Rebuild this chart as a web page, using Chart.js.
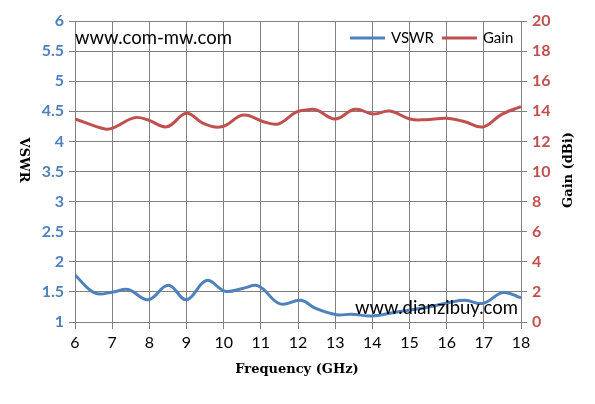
<!DOCTYPE html>
<html>
<head>
<meta charset="utf-8">
<script src="https://cdn.jsdelivr.net/npm/chart.js@4"></script>
<style>
  html, body { margin: 0; padding: 0; background: #fff; }
  #wrap { width: 595px; height: 404px; }
</style>
</head>
<body>
<div id="wrap"><canvas id="chart" width="595" height="404"></canvas></div>
<script>
// Values
const vswrFreq = [6, 6.54, 7.03, 7.43, 7.97, 8.51, 9, 9.54, 10.04, 10.53, 10.93, 11.52, 12.08, 12.46, 13.04, 13.44, 13.98, 14.52, 15.01, 15.5, 16.04, 16.49, 16.98, 17.52, 18];
const vswr = [1.78, 1.48, 1.50, 1.54, 1.37, 1.61, 1.37, 1.69, 1.51, 1.56, 1.60, 1.30, 1.36, 1.23, 1.12, 1.13, 1.10, 1.15, 1.20, 1.25, 1.32, 1.36, 1.31, 1.49, 1.40];

const gainFreq = [6, 6.81, 7.03, 7.61, 7.97, 8.47, 9, 9.45, 9.95, 10.53, 11.07, 11.47, 11.95, 12.28, 12.5, 13, 13.53, 14.03, 14.47, 15.01, 15.42, 16, 16.49, 16.98, 17.48, 18];
const gain = [13.5, 12.82, 12.9, 13.58, 13.42, 12.97, 13.87, 13.2, 12.97, 13.75, 13.31, 13.16, 13.95, 14.11, 14.09, 13.49, 14.13, 13.82, 14.02, 13.49, 13.44, 13.54, 13.31, 12.96, 13.8, 14.31];

const xTicks = [6, 7, 8, 9, 10, 11, 12, 13, 14, 15, 16, 17, 18];
const leftTicks = [1, 1.5, 2, 2.5, 3, 3.5, 4, 4.5, 5, 5.5, 6];
const rightTicks = [0, 2, 4, 6, 8, 10, 12, 14, 16, 18, 20];

const xTitle = 'Frequency (GHz)';
const leftTitle = 'VSWR';
const rightTitle = 'Gain (dBi)';

const blue = '#4F81BD';
const red = '#C0504D';
const gridColor = '#808080';
const tickFont = "Lato, 'Liberation Sans', sans-serif";
const titleFont = "bold 13px 'DejaVu Serif', serif";

const toPoints = (xs, ys) => xs.map((x, i) => ({ x: x, y: ys[i] }));

// axis titles, watermark texts + legend
const overlay = {
    id: 'overlay',
    afterDatasetsDraw(chart) {
        const ctx = chart.ctx;
        ctx.save();
        ctx.textBaseline = 'middle';
        ctx.textAlign = 'center';

        // axis titles
        ctx.font = titleFont;
        ctx.fillStyle = '#000';
        ctx.fillText(xTitle, 297, 370);
        ctx.save();
        ctx.translate(23, 160);
        ctx.rotate(Math.PI / 2);
        ctx.fillText(leftTitle, 0, 0);
        ctx.restore();
        ctx.save();
        ctx.translate(569, 170);
        ctx.rotate(-Math.PI / 2);
        ctx.fillText(rightTitle, 0, 0);
        ctx.restore();

        ctx.textAlign = 'left';
        ctx.font = "18.5px " + tickFont;
        ctx.fillText('www.com-mw.com', 75, 38);
        ctx.fillText('www.dianzibuy.com', 355, 308);

        // legend
        ctx.font = "15px " + tickFont;
        let x = 350;
        chart.data.datasets.forEach(ds => {
            ctx.strokeStyle = ds.borderColor;
            ctx.lineWidth = 3;
            ctx.beginPath();
            ctx.moveTo(x, 38);
            ctx.lineTo(x + 35, 38);
            ctx.stroke();
            ctx.fillStyle = '#000';
            ctx.fillText(ds.label, x + 41, 38);
            x += 41 + ctx.measureText(ds.label).width + 8;
        });
        ctx.restore();
    }
};

new Chart(document.getElementById('chart'), {
    type: 'line',
    data: {
        datasets: [{
            label: 'VSWR',
            data: toPoints(vswrFreq, vswr),
            borderColor: blue,
            backgroundColor: blue,
            borderWidth: 3,
            pointRadius: 0,
            tension: 0.4,
            yAxisID: 'y'
        }, {
            label: 'Gain',
            data: toPoints(gainFreq, gain),
            borderColor: red,
            backgroundColor: red,
            borderWidth: 3,
            pointRadius: 0,
            tension: 0.4,
            yAxisID: 'y2'
        }]
    },
    options: {
        responsive: false,
        animation: false,
        layout: { padding: { top: 21, left: 0, right: 0, bottom: 0 } },
        plugins: {
            legend: { display: false },
            tooltip: { enabled: false }
        },
        scales: {
            x: {
                type: 'linear',
                min: 6, max: 18,
                afterBuildTicks: s => { s.ticks = xTicks.map(v => ({ value: v })); },
                afterFit: s => { s.height = 82; },
                grid: { color: gridColor, tickLength: 7 },
                border: { color: gridColor },
                ticks: { color: '#000', font: { family: tickFont, size: 16 }, padding: 4, maxRotation: 0 }
            },
            y: {
                position: 'left',
                min: 1, max: 6,
                afterBuildTicks: s => { s.ticks = leftTicks.map(v => ({ value: v })); },
                afterFit: s => { s.width = 75; },
                grid: { color: gridColor, tickLength: 6 },
                border: { color: gridColor },
                ticks: { color: blue, font: { family: tickFont, size: 16, weight: 'bold' }, padding: 5,
                         callback: v => String(v) }
            },
            y2: {
                position: 'right',
                min: 0, max: 20,
                afterBuildTicks: s => { s.ticks = rightTicks.map(v => ({ value: v })); },
                afterFit: s => { s.width = 74; },
                grid: { drawOnChartArea: false, color: gridColor, tickLength: 6 },
                border: { color: gridColor },
                ticks: { color: red, font: { family: tickFont, size: 16, weight: 'bold' }, padding: 5,
                         callback: v => String(v) }
            }
        }
    },
    plugins: [overlay]
});
</script>
</body>
</html>
